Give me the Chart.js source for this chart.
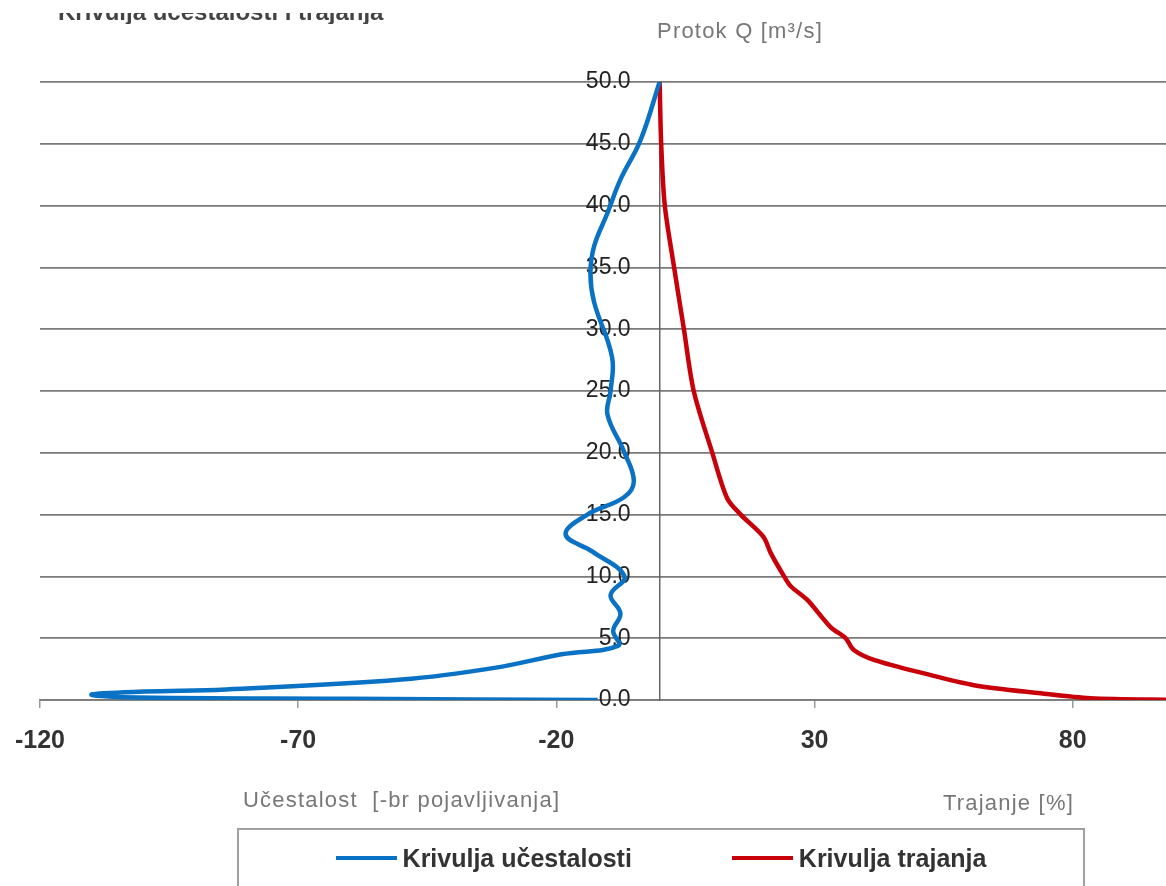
<!DOCTYPE html>
<html>
<head>
<meta charset="utf-8">
<script src="https://cdn.jsdelivr.net/npm/chart.js@4.4.1/dist/chart.umd.min.js"></script>
<style>
  html, body { margin: 0; padding: 0; background: #fff; overflow: hidden; width: 1166px; height: 886px; }
  #wrap { position: relative; width: 1166px; height: 886px; overflow: hidden; }
  #chart { position: absolute; left: 0; top: 0; }
  .txt { position: absolute; font-family: 'Liberation Sans', Arial, sans-serif; white-space: nowrap; }
  .axis-title { font-size: 22px; line-height: 24px; letter-spacing: 1.2px; color: #777; }
  .cut { position: absolute; left: 58px; top: 0; font: bold 24px/24px 'Liberation Sans', Arial, sans-serif;
         color: #444; white-space: nowrap; clip-path: inset(13px 0 0 0); }
  #legend { position: absolute; left: 237px; top: 828px; width: 848px; height: 80px; box-sizing: border-box;
            border: 2px solid #a0a0a0; border-bottom: none; display: flex; justify-content: center; gap: 100px; padding-top: 13px; }
  .item { display: flex; align-items: center; font: bold 25px/30px 'Liberation Sans', Arial, sans-serif; color: #333; height: 30px; }
  .swatch { display: inline-block; width: 61px; height: 4px; margin-right: 6px; }
</style>
</head>
<body>
<div id="wrap">
  <canvas id="chart" width="1180" height="886"></canvas>
  <div class="cut">Krivulja učestalosti i trajanja</div>
  <div class="txt axis-title" style="left:740px;top:19px;transform:translateX(-50%)">Protok Q [m³/s]</div>
  <div class="txt axis-title" style="left:243px;top:788px">Učestalost&nbsp; [-br pojavljivanja]</div>
  <div class="txt axis-title" style="left:943px;top:791px">Trajanje [%]</div>
  <div id="legend"></div>
</div>
<script>
// Krivulja učestalosti: broj pojavljivanja (negativno) za protok Q
const ucestalostX = [-12, -60, -104, -110, -100, -84, -50, -32, -19, -8, -9, -7.6, -9.5, -6.8, -13, -18.2, -14, -6.9, -5, -6.9, -10.1, -9.5, -9.2, -12.7, -13.4, -12.7, -10.1, -7.6, -3.7, 0];
const ucestalostQ = [0, 0.1, 0.22, 0.45, 0.68, 0.85, 1.65, 2.6, 3.7, 4.4, 5.6, 7.0, 8.5, 10, 12, 13.4, 15, 16.4, 17.7, 20.1, 23.1, 25, 27.7, 32.2, 34.5, 36.7, 39.4, 42.1, 45.3, 50];

// Krivulja trajanja: trajanje [%] za protok Q
const trajanjeX = [0, 0.3, 1.0, 2.8, 4.7, 6.6, 10.2, 13.1, 15.7, 20.1, 21.5, 24.1, 25.4, 28.6, 33.1, 36, 37.6, 41.5, 51.2, 60.9, 73.8, 83.4, 100];
const trajanjeQ = [50, 45, 40, 35, 30, 25, 20, 16.3, 15, 13.2, 11.9, 10, 9.2, 8.1, 5.9, 5, 4.05, 3.25, 2.15, 1.2, 0.54, 0.14, 0];

const xTicks = [-120, -70, -20, 30, 80];
const FONT = "'Liberation Sans', Arial, sans-serif";
const BLUE = '#0a72c4';
const RED = '#c8000a';

function toPoints(xs, ys) {
  return xs.map((x, i) => ({ x, y: ys[i] }));
}

// oznake osi Q lijevo od vertikalne osi (x = 0)
const qLabels = {
  id: 'qLabels',
  beforeDatasetsDraw(chart) {
    const { ctx, scales: { x, y } } = chart;
    const px = x.getPixelForValue(0) - 29;
    ctx.save();
    ctx.font = `23px ${FONT}`;
    ctx.fillStyle = '#222';
    ctx.textAlign = 'right';
    ctx.textBaseline = 'middle';
    y.ticks.forEach(t => ctx.fillText(t.value.toFixed(1), px, y.getPixelForValue(t.value)));
    ctx.restore();
  }
};

const chart = new Chart(document.getElementById('chart'), {
  type: 'scatter',
  data: {
    datasets: [
      {
        label: 'Krivulja učestalosti',
        data: toPoints(ucestalostX, ucestalostQ),
        showLine: true,
        borderColor: BLUE,
        backgroundColor: BLUE,
        borderWidth: 4.5,
        pointRadius: 0,
        tension: 0.4
      },
      {
        label: 'Krivulja trajanja',
        data: toPoints(trajanjeX, trajanjeQ),
        showLine: true,
        borderColor: RED,
        backgroundColor: RED,
        borderWidth: 4.5,
        pointRadius: 0,
        tension: 0.3
      }
    ]
  },
  options: {
    responsive: false,
    animation: false,
    layout: { padding: { left: 40, right: 4, top: 82, bottom: 96 } },
    plugins: { legend: { display: false }, tooltip: { enabled: false } },
    scales: {
      x: {
        type: 'linear',
        min: -120,
        max: 100,
        afterBuildTicks: s => { s.ticks = xTicks.map(v => ({ value: v })); },
        afterFit: s => { s.height = 90; s.paddingLeft = 0; s.paddingRight = 0; },
        grid: { drawOnChartArea: false, tickLength: 8, color: '#999', lineWidth: 1.5 },
        border: { display: true, color: '#7a7a7a', width: 1.8 },
        ticks: { padding: 18, color: '#333', font: { family: FONT, size: 25, weight: 'bold' } }
      },
      y: {
        type: 'linear',
        min: 0,
        max: 50,
        position: { x: 0 },
        grid: { color: '#7a7a7a', lineWidth: 1.8, drawTicks: false },
        border: { display: true, color: '#666', width: 1.5 },
        ticks: { stepSize: 5, display: false }
      }
    }
  },
  plugins: [qLabels]
});

// legenda u okviru ispod grafa
const legend = document.getElementById('legend');
chart.data.datasets.forEach(ds => {
  const item = document.createElement('div');
  item.className = 'item';
  item.innerHTML = `<span class="swatch" style="background:${ds.borderColor}"></span>${ds.label}`;
  legend.appendChild(item);
});
</script>
</body>
</html>
